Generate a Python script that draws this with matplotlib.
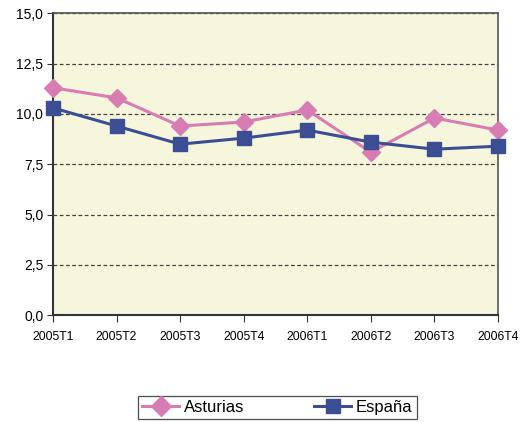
import numpy as np
import matplotlib.pyplot as plt
from matplotlib.ticker import FuncFormatter

# Datos
trimestres = ['2005T1', '2005T2', '2005T3', '2005T4', '2006T1', '2006T2', '2006T3', '2006T4']
asturias = [11.3, 10.8, 9.4, 9.6, 10.2, 8.1, 9.8, 9.2]
espana = [10.3, 9.4, 8.5, 8.8, 9.2, 8.6, 8.25, 8.4]

plt.rcParams['font.family'] = ['Liberation Sans', 'DejaVu Sans']

fig = plt.figure(figsize=(5.28, 4.22), dpi=100)
ax = fig.add_axes([0.1004, 0.2528, 0.8428, 0.7157])
ax.set_facecolor('#f6f6dc')

x = np.arange(len(trimestres))
ax.plot(x, asturias, color='#d77db4', lw=2.2, marker='D', ms=9, label='Asturias',
        zorder=3, clip_on=False)
ax.plot(x, espana, color='#3c4e93', lw=2.2, marker='s', ms=9.5, label='España',
        zorder=4, clip_on=False)

ax.set_xlim(0, len(trimestres) - 1)
ax.set_ylim(0, 15)
ax.set_yticks(np.arange(0, 15.1, 2.5))
ax.yaxis.set_major_formatter(FuncFormatter(lambda v, p: f'{v:.1f}'.replace('.', ',')))
ax.set_xticks(x)
ax.set_xticklabels(trimestres, fontsize=8.8)
ax.tick_params(axis='y', labelsize=10, direction='out', length=4, pad=3, color='#333333')
ax.tick_params(axis='x', direction='out', length=5, pad=6, color='#333333')

ax.yaxis.grid(True, linestyle=(0, (3, 2)), color='#444444', lw=0.9)
ax.set_axisbelow(True)

for s in ['left', 'bottom']:
    ax.spines[s].set_color('#333333')
    ax.spines[s].set_linewidth(1.5)
for s in ['top', 'right']:
    ax.spines[s].set_color('#555555')
    ax.spines[s].set_linewidth(1.2)

leg = fig.legend(loc='center', bbox_to_anchor=(0.5256, 0.0344), ncol=2, fontsize=12,
                 frameon=True, fancybox=False, edgecolor='#222222', handlelength=2.2,
                 columnspacing=4.2, borderpad=0.25, handletextpad=0.3, borderaxespad=0,
                 markerscale=1.1)
leg.get_frame().set_linewidth(0.9)

fig.savefig('out.png', dpi=100)
